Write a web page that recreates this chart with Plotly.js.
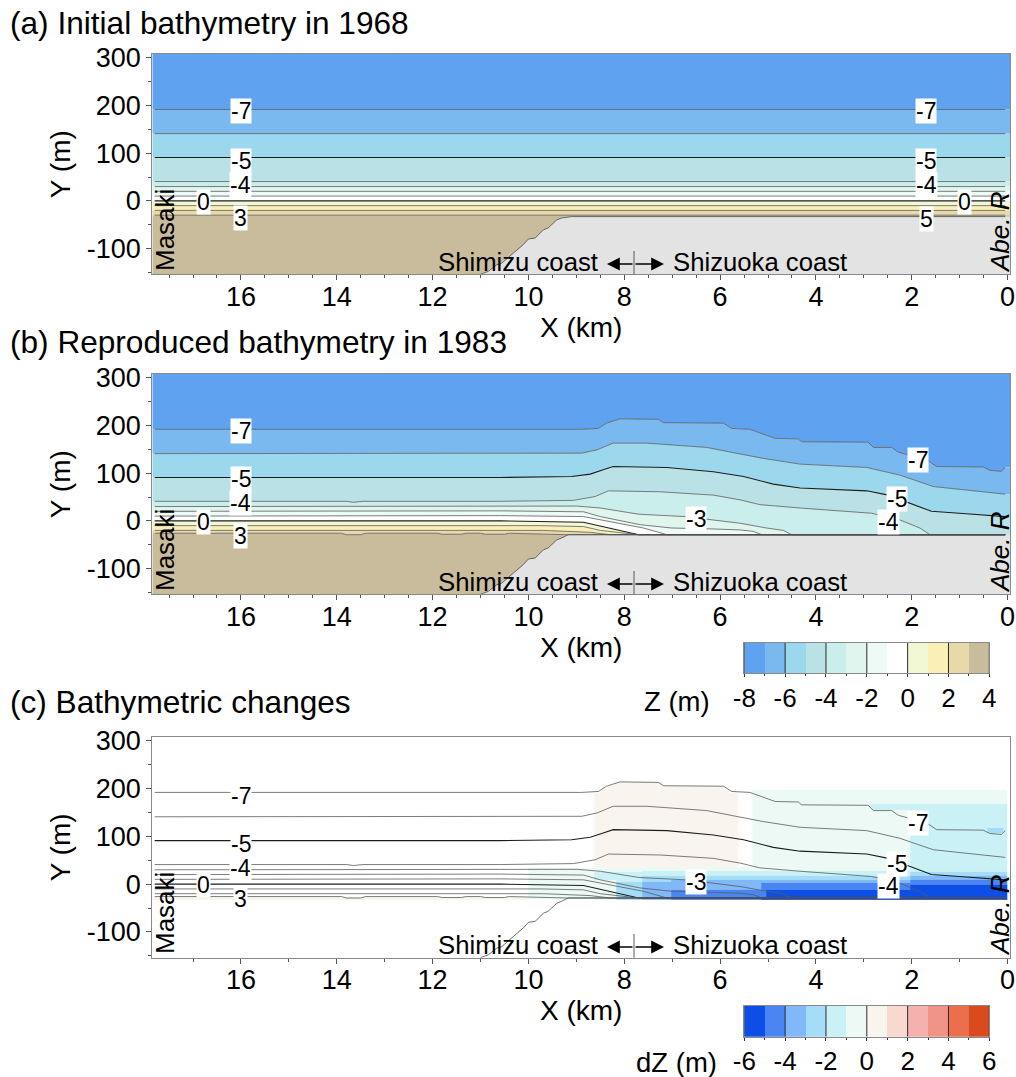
<!DOCTYPE html>
<html><head><meta charset="utf-8">
<script src="https://cdn.plot.ly/plotly-3.0.1.min.js"></script>
<style>html,body{margin:0;padding:0;background:#fff;overflow:hidden}#p{width:1016px;height:1077px}</style>
</head><body><div id="p"></div>
<script>
// ---- band colours
const zEdges  = [-8,-7,-6,-5,-4,-3,-2,-1,0,1,2,3,4];
const zColors = ['#5fa2f0','#7ab9f0','#9bd8ee','#b9e1e6','#c9eeec','#dff5ee','#eefaf6','#ffffff','#f2f7d4','#fbefb8','#e8d9a8','#c9bc9c'];
const zTicks  = [-8,-6,-4,-2,0,2,4];
const dzEdges = [-6,-5,-4,-3,-2,-1,0,1,2,3,4,5,6];
const dzColors= ['#0d4fe6','#4a86f3','#80b8f8','#a5dcf7','#c9f1f6','#ecf9f5','#f9f4ee','#f9d8ce','#f4b1ae','#f19486','#ec6f4d','#d94a1f'];
const dzTicks = [-6,-4,-2,0,2,4,6];
const isoLevels = [-7,-6,-5,-4,-3,-2,-1,0,1,2,3];

// ---- (a) 1968 isobaths: straight, alongshore
const aIsoX = [17.8,0.05];
const aIsoY = [191.6,141,91,40.5,30,20,10,0,-10,-20,-30];
const landXa = [11.0,10.84,10.66,10.56,10.32,10.11,10.0,9.86,9.79,9.69,9.59,9.41,9.31,9.17,9.10,0.05];
const landYa = [-154,-148,-134,-131,-110,-92,-80,-78,-71,-61,-57,-40,-36,-33,-33,-33];

// ---- (b) 1983 isobaths, one pair per level
const bXm7 = [17.8,10.59,8.89,8.54,8.37,8.09,7.29,7.18,5.93,5.76,5.38,4.85,4.37,4.30,2.91,2.80,2.42,2.28,1.69,1.48,0.51,0.37,0.13,0.05];
const bYm7 = [192,192,192,194,205,214,213,206,205,194,192,173,172,166,165,154,154,144,128,114,113,106,104,112];
const bXm6 = [17.8,10.59,8.89,8.57,8.23,7.53,6.28,5.72,5.10,4.33,2.94,2.25,1.83,1.55,0.05];
const bYm6 = [141,141,142,149,163,163,154,143,131,119,112,96,82,72,56];
const bXm5 = [17.8,10.59,9.10,8.71,8.44,8.23,7.11,6.14,5.51,4.89,4.33,2.94,2.49,2.04,1.59,0.86,0.05];
const bYm5 = [91,91,93,98,107,114,112,103,93,77,69,63,54,37,20,15,9];
const bXm4 = [17.8,13.8,13.65,13.45,10.59,9.06,8.61,8.33,7.25,6.14,5.58,5.17,4.33,2.84,2.25,1.83,1.62,0.05];
const bYm4 = [41,41,39,41,41,43,51,63,61,54,44,34,27,16,2,-15,-29,-29];
const bXm3 = [17.8,10.59,8.99,8.50,7.70,6.73,6.28,5.58,5.03,4.68,4.51,0.05];
const bYm3 = [30,31,31,27,14,9,3,-5,-15,-20,-29,-29];
const bXm2 = [17.8,10.59,8.85,8.50,7.67,7.01,6.14,5.58,5.31,5.13,0.05];
const bYm2 = [20,21,19,9,-8,-15,-17,-19,-22,-29,-29];
const bXm1 = [17.8,10.59,8.85,8.50,7.60,7.11,0.05];
const bYm1 = [10,11,9,2,-15,-29,-29];
const bX0  = [17.8,10.59,8.85,8.30,7.70,0.05];
const bY0  = [0,0,-3,-15,-29,-29];
const bXp1 = [17.8,9.76,8.85,8.50,7.70,0.05];
const bYp1 = [-10,-10,-12,-20,-29,-29];
const bXp2 = [17.8,9.69,8.71,8.30,0.05];
const bYp2 = [-20,-20,-24,-29,-29];
const bXp3 = [17.8,13.9,13.8,13.5,13.4,11.9,11.8,11.4,11.3,11.0,10.9,10.5,10.4,9.2,0.05];
const bYp3 = [-26,-26,-29,-29,-26,-26,-28,-28,-26,-26,-28,-28,-26,-29,-29];
const landXb = [11.0,10.84,10.66,10.56,10.32,10.11,10.0,9.86,9.79,9.69,9.59,9.41,9.31,9.17,9.10,0.05];
const landYb = [-154,-148,-134,-131,-110,-92,-80,-78,-71,-61,-57,-40,-36,-29,-29,-29];

// ---- (c) dZ patches, painted in order: left km, right km, bottom m, top m, dZ
const dzPatchL = [10,8.63,8.5,8.35,8.2,5.33,2.84,2.04,0.43,8.63,8.63,8.16,8.16,7.63,7.63,7.63,7.02,7.02,7.02,7.02,5.14,5.14,5.14,5.14,5.14,5.03,2.04,2.04,2.04,2.04,17.85,2.04];
const dzPatchR = [8.63,5.62,5.8,5.93,7.2,0,2.04,0,0.1,0,8.16,7.63,7.63,7.02,7.02,7.02,5.14,5.14,5.14,5.14,0,0,0,0,5.03,0,0,0,0,0,10,0];
const dzPatchB = [-31,37,192,192,192,37,155,37,107,-33,9,5.6,-33,18,5.6,-33,18,9,-12,-33,17.5,9,2,-33,-33,-33,26.6,17.5,9,-33,-33,-33];
const dzPatchT = [34,192,198,206,214,197,168,168,117,37,26,26.6,5.6,27,18,5.6,27,18,9,-12,27,17.5,9,2,-26,-12,37,26.6,17.5,9,-26,-1.4];
const dzPatchV = [-0.5,0.5,0.5,0.5,0.5,-0.5,-1.5,-1.5,-2.5,-0.5,-1.5,-1.5,-2.5,-1.5,-2.5,-3.5,-1.5,-2.5,-3.5,-4.5,-1.5,-2.5,-3.5,-4.5,-5.5,-5.5,-1.5,-2.5,-3.5,-4.5,0.5,-5.5];

// ---- label lists
const panelTitles = ['(a) Initial bathymetry in 1968','(b) Reproduced bathymetry in 1983','(c) Bathymetric changes'];
const labelsA = [['-7',16,188],['-5',16,84],['-4',16,33],['0',16.79,-3],['3',16,-36],['-7',1.7,188],['-5',1.7,84],['-4',1.7,33],['0',0.9,-3],['5',1.7,-38]];
const labelsB = [['-7',16,188],['-5',16,88],['-4',16,37],['0',16.79,-2],['3',16,-31],['-7',1.88,128],['-5',2.3,46],['-4',2.49,-2],['-3',6.5,4]];
const labelsC = [['-7',16,184],['-5',16,84],['-4',16,33],['0',16.79,-2],['3',16,-32],['-7',1.88,128],['-5',2.3,42],['-4',2.49,-4],['-3',6.5,4]];

// ---- layout constants (pixels in a 1016x1077 page)
const W=1016,H=1077,FONT='"Liberation Sans",Arial,sans-serif';
const xRange=[17.85,-0.05], yRange=[-154,308];
const plotLeft=152.3, plotRight=1010;
const panels=[{top:54,bot:274.3,minor:0.5},{top:374,bot:594.3,minor:0.5},{top:737,bot:957.7,minor:1}];
const bars=[{top:642.7,bot:673.3},{top:1006,bot:1036.7}];
const dom=(a,b)=>[a/W,b/W], vdom=(t,b)=>[1-b/H,1-t/H];

const isoB=[[bXm7,bYm7],[bXm6,bYm6],[bXm5,bYm5],[bXm4,bYm4],[bXm3,bYm3],[bXm2,bYm2],[bXm1,bYm1],[bX0,bY0],[bXp1,bYp1],[bXp2,bYp2],[bXp3,bYp3]];
const isoA=aIsoY.map(v=>[aIsoX,[v,v]]);

const traces=[];
function steps(colors){const out=[],n=colors.length;colors.forEach((c,i)=>{out.push([i/n,c]);out.push([(i+1)/n,c]);});return out;}
function lineStyle(level){return (level===-5||level===0)?{color:'#1c1c1c',width:1.1}:{color:'#5c5c5c',width:0.8};}

function addFills(iso,land,ax,ay){
  const extend=(x,y)=>({x:[xRange[0],...x,xRange[1]],y:[y[0],...y,y[y.length-1]]});
  const base={mode:'lines',line:{width:0},hoverinfo:'skip',showlegend:false,xaxis:ax,yaxis:ay,type:'scatter'};
  traces.push({...base,x:xRange,y:[yRange[1],yRange[1]]});
  iso.forEach((p,i)=>{const e=extend(p[0],p[1]);traces.push({...base,x:e.x,y:e.y,fill:'tonexty',fillcolor:zColors[i]});});
  traces.push({...base,x:xRange,y:[yRange[0],yRange[0]],fill:'tonexty',fillcolor:zColors[11]});
  traces.push({...base,x:[...land[0],xRange[1],xRange[1]],y:[...land[1],land[1][land[1].length-1],yRange[0]],fill:'toself',fillcolor:'#e3e3e3'});
}
function addLines(iso,land,ax,ay){
  iso.forEach((p,i)=>traces.push({type:'scatter',mode:'lines',x:p[0],y:p[1],line:lineStyle(isoLevels[i]),xaxis:ax,yaxis:ay,hoverinfo:'skip',showlegend:false}));
  traces.push({type:'scatter',mode:'lines',x:land[0],y:land[1],line:{color:'#4a4a4a',width:0.8},xaxis:ax,yaxis:ay,hoverinfo:'skip',showlegend:false});
}
addFills(isoA,[landXa,landYa],'x','y');   addLines(isoA,[landXa,landYa],'x','y');
addFills(isoB,[landXb,landYb],'x2','y2'); addLines(isoB,[landXb,landYb],'x2','y2');

// dZ heatmap, built from the patch lists
const xe=[...new Set([...dzPatchL,...dzPatchR])].sort((a,b)=>a-b);
const ye=[...new Set([...dzPatchB,...dzPatchT])].sort((a,b)=>a-b);
const dzGrid=ye.slice(1).map(()=>xe.slice(1).map(()=>null));
dzPatchV.forEach((v,k)=>{
  for(let j=0;j<ye.length-1;j++) for(let i=0;i<xe.length-1;i++){
    if(xe[i]>=dzPatchR[k]&&xe[i+1]<=dzPatchL[k]&&ye[j]>=dzPatchB[k]&&ye[j+1]<=dzPatchT[k]) dzGrid[j][i]=v;
  }
});
traces.push({type:'heatmap',x:xe,y:ye,z:dzGrid,zmin:-6,zmax:6,colorscale:steps(dzColors),showscale:false,xaxis:'x3',yaxis:'y3',hoverinfo:'skip',zsmooth:false});
addLines(isoB,[landXb,landYb],'x3','y3');

// colour bars, with a dark line at every labelled value
const mids=e=>e.slice(1).map((v,i)=>(v+e[i])/2);
const tickLines=t=>({x:t.flatMap(v=>[v,v,null]),y:t.flatMap(()=>[0,1,null])});
traces.push({type:'heatmap',x:zEdges,y:[0,1],z:[mids(zEdges)],zmin:-8,zmax:4,colorscale:steps(zColors),showscale:false,xaxis:'x4',yaxis:'y4',hoverinfo:'skip'});
traces.push({type:'scatter',mode:'lines',...tickLines(zTicks),line:{color:'#2a2a2a',width:1},xaxis:'x4',yaxis:'y4',hoverinfo:'skip',showlegend:false,cliponaxis:false});
traces.push({type:'heatmap',x:dzEdges,y:[0,1],z:[mids(dzEdges)],zmin:-6,zmax:6,colorscale:steps(dzColors),showscale:false,xaxis:'x5',yaxis:'y5',hoverinfo:'skip'});
traces.push({type:'scatter',mode:'lines',...tickLines(dzTicks),line:{color:'#2a2a2a',width:1},xaxis:'x5',yaxis:'y5',hoverinfo:'skip',showlegend:false,cliponaxis:false});

const AX='#8a8a8a', TK='#555', TF=27;
function xAxis(p,anchor){return {domain:dom(plotLeft,plotRight),range:xRange,anchor,tickmode:'linear',tick0:0,dtick:2,ticks:'outside',ticklen:5,tickcolor:TK,showgrid:false,zeroline:false,showline:true,mirror:true,linecolor:AX,linewidth:1,
  tickfont:{family:FONT,size:TF,color:'#000'},ticklabelstandoff:-7,title:{text:'X (km)',font:{family:FONT,size:28,color:'#000'},standoff:0},minor:{dtick:p.minor,ticks:'outside',ticklen:3,tickcolor:TK,showgrid:false},automargin:false};}
function yAxis(p,anchor){return {domain:vdom(p.top,p.bot),range:yRange,anchor,tickmode:'array',tickvals:[-100,0,100,200,300],ticktext:['-100','0','100','200','300'],ticks:'outside',ticklen:5,tickcolor:TK,showgrid:false,zeroline:false,showline:true,mirror:true,linecolor:AX,linewidth:1,
  tickfont:{family:FONT,size:TF,color:'#000'},title:{text:'Y (m)',font:{family:FONT,size:28,color:'#000'},standoff:8},minor:{tickvals:[-150,-50,50,150,250],ticks:'outside',ticklen:3,tickcolor:TK,showgrid:false},automargin:false};}
function barX(b,anchor,ticks,range){return {domain:dom(744.3,989.3),range,anchor,tickmode:'array',tickvals:ticks,ticktext:ticks.map(String),ticks:'outside',ticklen:3,tickcolor:'#333',showgrid:false,zeroline:false,showline:true,mirror:true,linecolor:AX,
  tickfont:{family:FONT,size:26,color:'#000'},ticklabelstandoff:-2,minor:{dtick:1,ticks:'outside',ticklen:2,tickcolor:'#333',showgrid:false}};}
function barY(b,anchor){return {domain:vdom(b.top,b.bot),range:[0,1],anchor,showticklabels:false,ticks:'',showgrid:false,zeroline:false,showline:true,mirror:true,linecolor:AX};}

const annotations=[],shapes=[];
const pxAnn=(text,x,y,size,anchor,angle)=>annotations.push({text,xref:'paper',yref:'paper',x:x/W,y:1-y/H,xanchor:anchor||'left',yanchor:'middle',showarrow:false,textangle:angle||0,font:{family:FONT,size,color:'#000'}});
pxAnn(panelTitles[0],8,23,31.6); pxAnn(panelTitles[1],8,342,31.6); pxAnn(panelTitles[2],8,702,31.6);
pxAnn('Z (m)',642,701,27.5); pxAnn('dZ (m)',634,1062,27.5);

const coastY=[262,582,945], arrowY=[264,584,947];
panels.forEach((p,i)=>{
  const sfx=i?String(i+1):'', xr='x'+sfx, yr='y'+sfx;
  [labelsA,labelsB,labelsC][i].forEach(l=>annotations.push({text:l[0],xref:xr,yref:yr,x:l[1],y:l[2],showarrow:false,bgcolor:'#fff',borderpad:0,height:24,font:{family:FONT,size:23,color:'#000'}}));
  pxAnn('Masaki',165,p.top+176,26,'center',-90);
  pxAnn('<i>Abe. R</i>',1000,p.top+178,26,'center',-90);
  pxAnn('Shimizu coast',600,coastY[i],25.7,'right');
  pxAnn('Shizuoka coast',671,coastY[i],25.7,'left');
  const ay=arrowY[i];
  const ypx=v=>1-v/H;
  [[634,607],[634,664]].forEach(a=>annotations.push({text:'',xref:'paper',yref:'paper',axref:'paper',ayref:'paper',x:a[1]/W,y:ypx(ay),ax:a[0]/W,ay:ypx(ay),showarrow:true,arrowhead:2,arrowsize:1.6,arrowwidth:1.6,arrowcolor:'#000'}));
  shapes.push({type:'line',xref:'paper',yref:'paper',x0:634/W,x1:634/W,y0:ypx(ay-13),y1:ypx(p.bot),line:{color:'#333',width:0.8}});
});

const layout={width:W,height:H,margin:{l:0,r:0,t:0,b:0},paper_bgcolor:'#fff',plot_bgcolor:'rgba(0,0,0,0)',showlegend:false,font:{family:FONT},
  xaxis:xAxis(panels[0],'y'),yaxis:yAxis(panels[0],'x'),
  xaxis2:xAxis(panels[1],'y2'),yaxis2:yAxis(panels[1],'x2'),
  xaxis3:xAxis(panels[2],'y3'),yaxis3:yAxis(panels[2],'x3'),
  xaxis4:barX(bars[0],'y4',zTicks,[-8,4]),yaxis4:barY(bars[0],'x4'),
  xaxis5:barX(bars[1],'y5',dzTicks,[-6,6]),yaxis5:barY(bars[1],'x5'),
  annotations,shapes};
Plotly.newPlot('p',traces,layout,{staticPlot:true,displayModeBar:false});
</script></body></html>
